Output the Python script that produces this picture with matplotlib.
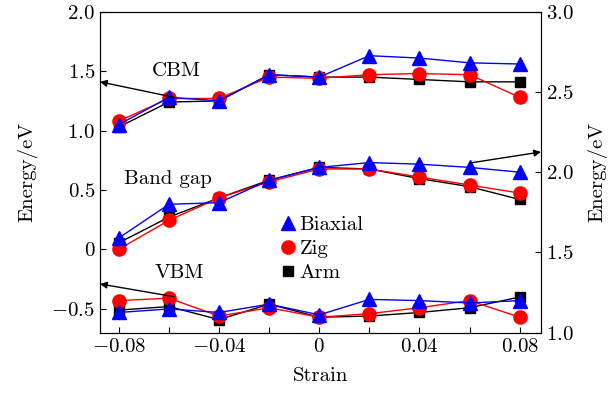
import numpy as np
import matplotlib
matplotlib.use("Agg")
import matplotlib.pyplot as plt
from matplotlib.lines import Line2D

plt.rcParams['font.family'] = 'serif'
plt.rcParams['font.serif'] = ['cmr10', 'DejaVu Serif']
plt.rcParams['mathtext.fontset'] = 'cm'
plt.rcParams['axes.formatter.use_mathtext'] = True
plt.rcParams['font.size'] = 15

# strain values
strain = [-0.08, -0.06, -0.04, -0.02, 0.0, 0.02, 0.04, 0.06, 0.08]

# conduction band minimum (left axis)
cbm_biaxial = [1.05, 1.28, 1.25, 1.47, 1.45, 1.63, 1.61, 1.57, 1.56]
cbm_zig = [1.08, 1.27, 1.27, 1.45, 1.44, 1.47, 1.48, 1.47, 1.28]
cbm_arm = [1.03, 1.24, 1.25, 1.47, 1.45, 1.45, 1.43, 1.41, 1.41]

# band gap (right axis)
gap_biaxial = [1.59, 1.80, 1.81, 1.95, 2.03, 2.06, 2.05, 2.03, 2.00]
gap_zig = [1.52, 1.70, 1.84, 1.94, 2.02, 2.02, 1.97, 1.92, 1.87]
gap_arm = [1.56, 1.72, 1.84, 1.95, 2.03, 2.02, 1.96, 1.91, 1.83]

# valence band maximum (left axis)
vbm_biaxial = [-0.53, -0.50, -0.53, -0.46, -0.55, -0.42, -0.43, -0.45, -0.43]
vbm_zig = [-0.43, -0.41, -0.56, -0.49, -0.57, -0.54, -0.49, -0.43, -0.57]
vbm_arm = [-0.51, -0.48, -0.59, -0.46, -0.57, -0.56, -0.53, -0.49, -0.40]

xticks = [-0.08, -0.04, 0.0, 0.04, 0.08]
xticklabels = [r'$-0.08$', r'$-0.04$', r'$0$', r'$0.04$', r'$0.08$']
yticks_left = [-0.5, 0.0, 0.5, 1.0, 1.5, 2.0]
yticklabels_left = [r'$-0.5$', r'$0$', r'$0.5$', r'$1.0$', r'$1.5$', r'$2.0$']
yticks_right = [1.0, 1.5, 2.0, 2.5, 3.0]
yticklabels_right = [r'$1.0$', r'$1.5$', r'$2.0$', r'$2.5$', r'$3.0$']

fig = plt.figure(figsize=(6.08, 3.94), dpi=100)
ax = fig.add_axes([0.1645, 0.1556, 0.7253, 0.8147])
ax2 = ax.twinx()

styles = [('k', 's', 7.5), ('r', 'o', 9.5), ('b', '^', 10)]
left_sets = [(cbm_arm, cbm_zig, cbm_biaxial), (vbm_arm, vbm_zig, vbm_biaxial)]
for grp in left_sets:
  for vals, (c, m, ms) in zip(grp, styles):
    ax.plot(strain, vals, color=c, marker=m, ms=ms, lw=1.0, mec=c)
for vals, (c, m, ms) in zip((gap_arm, gap_zig, gap_biaxial), styles):
  ax2.plot(strain, vals, color=c, marker=m, ms=ms, lw=1.0, mec=c)

ax.set_xlim(-0.0875, 0.0885)
ax.set_ylim(-0.7, 2.0)
ax2.set_ylim(1.0, 3.0)

ax.set_xticks(xticks)
ax.set_xticklabels(xticklabels)
ax.set_xticks([-0.06, -0.02, 0.02, 0.06], minor=True)
ax.set_yticks(yticks_left)
ax.set_yticklabels(yticklabels_left)
ax2.set_yticks(yticks_right)
ax2.set_yticklabels(yticklabels_right)

ax.tick_params(which='both', direction='in', length=4, width=0.8, top=False, right=False)
ax2.tick_params(direction='in', length=4, width=0.8)

ax.set_xlabel('Strain', labelpad=8)
ax.set_ylabel('Energy/eV', labelpad=10)
ax2.set_ylabel('Energy/eV', labelpad=10)

arrow = dict(arrowstyle='-|>', color='k', lw=1.0, mutation_scale=10, shrinkA=0, shrinkB=0)
ax.annotate('', xy=(0.0, 1.41), xycoords=('axes fraction', 'data'),
            xytext=(-0.058, 1.28), textcoords='data', arrowprops=arrow)
ax.annotate('', xy=(0.0, -0.29), xycoords=('axes fraction', 'data'),
            xytext=(-0.058, -0.397), textcoords='data', arrowprops=arrow)
ax2.annotate('', xy=(1.0, 2.126), xycoords=('axes fraction', 'data'),
             xytext=(0.060, 2.057), textcoords='data', arrowprops=arrow)

ax.text(-0.0569, 1.50, 'CBM', ha='center', va='center')
ax.text(-0.0605, 0.593, 'Band gap', ha='center', va='center')
ax.text(-0.056, -0.198, 'VBM', ha='center', va='center')

handles = [Line2D([], [], color='b', marker='^', ms=10, ls='none'),
           Line2D([], [], color='r', marker='o', ms=9.5, ls='none'),
           Line2D([], [], color='k', marker='s', ms=7.5, ls='none')]
ax2.legend(handles, ['Biaxial', 'Zig', 'Arm'], loc='upper left',
           bbox_to_anchor=(0.375, 0.41), frameon=False, handlelength=0.8,
           handletextpad=0.15, labelspacing=0.25, borderpad=0.2)

fig.savefig('out.png', dpi=100)
